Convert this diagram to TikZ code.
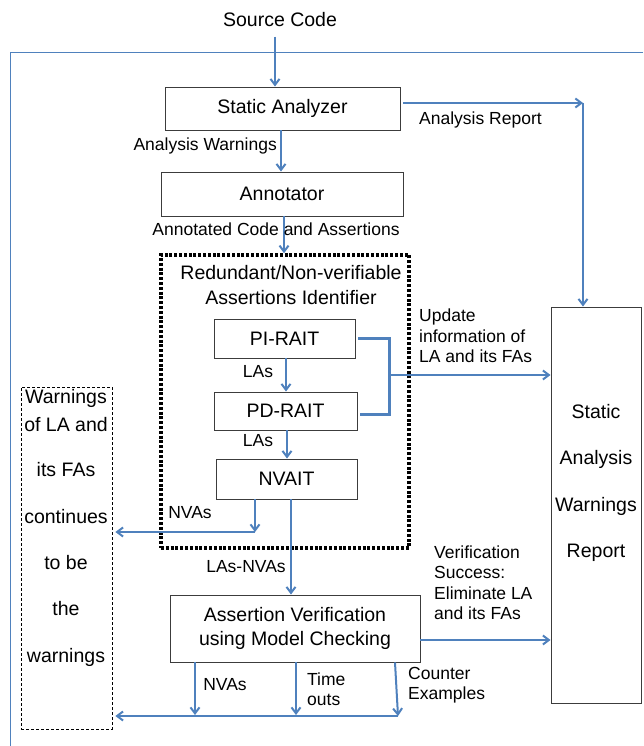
\documentclass[tikz,border=0pt]{standalone}
\usepackage{fontspec}
\setmainfont{Liberation Sans}
\usetikzlibrary{arrows.meta}
\definecolor{flow}{RGB}{79,129,189}
\definecolor{edge}{RGB}{60,60,60}
\begin{document}
\begin{tikzpicture}[x=1pt,y=-1pt,
  box/.style={draw=edge,line width=0.9pt,inner sep=0pt,align=center,
    font=\fontsize{19.5}{24}\selectfont},
  big/.style={inner sep=0pt,align=center,font=\fontsize{19.5}{25}\selectfont},
  lbl/.style={inner sep=0pt,font=\fontsize{17.5}{20.5}\selectfont},
  flowline/.style={draw=flow,line width=2pt},
  arr/.style={flowline,-{Straight Barb[length=6pt,width=9pt]}},
  dotbox/.style={draw=black,line width=3.5pt,dash pattern=on 3pt off 1.8pt},
  thindash/.style={draw=black,line width=0.8pt,dash pattern=on 3pt off 2pt},
]
\useasboundingbox (0,0) rectangle (643,746);

% outer frame (open towards right and bottom)
\draw[flow,line width=1pt] (643,53) -- (10,53) -- (10,746);

% input
\node[big] (sc) at (280,20) {Source Code};

% main boxes
\node[box,minimum width=235pt,minimum height=43pt] (sa) at (282.5,108.5) {Static Analyzer};
\node[box,minimum width=242pt,minimum height=44pt] (ann) at (282,194) {Annotator};
\node[dotbox,minimum width=248pt,minimum height=293pt,inner sep=0pt] (grp) at (285,401.5) {};
\node[big] (gtitle) at (291,285.5) {Redundant/Non-verifiable\\Assertions Identifier};
\node[box,minimum width=141pt,minimum height=39pt] (pi) at (284.5,338.5) {PI-RAIT};
\node[box,minimum width=143pt,minimum height=38pt] (pd) at (285.5,411) {PD-RAIT};
\node[box,minimum width=141pt,minimum height=40pt] (nv) at (286.5,479) {NVAIT};
\node[box,minimum width=250pt,minimum height=67pt] (av) at (295,628.5)
  {Assertion Verification\\using Model Checking};
\node[box,minimum width=90pt,minimum height=396pt] (rep) at (596,505) {};
\node[big,font=\fontsize{19.5}{46.3}\selectfont] (reptext) at (596,483)
  {Static\\Analysis\\Warnings\\Report};
\node[thindash,minimum width=91pt,minimum height=342pt,inner sep=0pt] (warn) at (66.5,558) {};
\node[big,font=\fontsize{19.5}{20}\selectfont] (warntext) at (66,528)
  {Warnings\\[8pt]of LA and\\[25pt]its FAs\\[27pt]continues\\[26pt]to be\\[26pt]the\\[27pt]warnings};

% junction points
\coordinate (crn) at (583,103);
\coordinate (brk) at (389,375);
\coordinate (nvj) at (255,532);
\coordinate (b1) at (195,715);
\coordinate (b2) at (296,715);
\coordinate (b3) at (398,716);

% connectors
\draw[arr] ([xshift=-7.5pt,yshift=50pt]sa.north) -- ([xshift=-7.5pt]sa.north);
\draw[arr] ([xshift=-1.5pt]sa.south) -- ([xshift=-1pt]ann.north);
\draw[arr] ([xshift=2pt]ann.south) -- ([xshift=-1pt]grp.north);
\draw[arr] ([xshift=3pt,yshift=5.5pt]sa.east) -- (crn);
\draw[arr] (crn) -- (crn |- rep.north);
\draw[arr] ([xshift=1.5pt]pi.south) -- ([xshift=0.5pt]pd.north);
\draw[arr] ([xshift=1.5pt]pd.south) -- ([xshift=0.5pt]nv.north);
\draw[flowline,line width=3pt] ([xshift=3pt]pi.east) -| (brk) |- ([xshift=3pt,yshift=-3pt]pd.east);
\draw[arr] (brk) -- (brk -| rep.west);
\draw[arr] ([xshift=-31.5pt]nv.south) -- (nvj);
\draw[arr] (nvj) -- ([xshift=3pt]nvj -| warn.east);
\draw[arr] ([xshift=4.5pt]nv.south) -- ([xshift=-4pt]av.north);
\draw[arr] ([yshift=-11.5pt]av.east) -- ([yshift=-11.5pt]av.east -| rep.west);
\draw[arr] ([xshift=-100pt]av.south) -- (b1);
\draw[arr] ([xshift=1pt]av.south) -- (b2);
\draw[arr] ([xshift=100pt]av.south) -- (b3);
\draw[arr] (b3) -- ([xshift=3pt]b3 -| warn.east);

% connector labels
\node[lbl,anchor=west] (lrep) at (419,120) {Analysis Report};
\node[lbl,anchor=east] (lwarn) at (277,146) {Analysis Warnings};
\node[lbl] (lann) at (276,229) {Annotated Code and Assertions};
\node[lbl] (las1) at (258,372) {LAs};
\node[lbl] (las2) at (258,441) {LAs};
\node[lbl] (lnva1) at (190,513) {NVAs};
\node[lbl] (llanva) at (246,567) {LAs-NVAs};
\node[lbl,anchor=west,align=left] (lupd) at (419,336)
  {Update\\information of\\LA and its FAs};
\node[lbl,anchor=west,align=left] (lver) at (434,582.5)
  {Verification\\Success:\\Eliminate LA\\and its FAs};
\node[lbl] (lnva2) at (225,685) {NVAs};
\node[lbl,anchor=west,align=left] (ltime) at (307,689) {Time\\outs};
\node[lbl,anchor=west,align=left] (lce) at (408,685) {Counter\\Examples};
\end{tikzpicture}
\end{document}
